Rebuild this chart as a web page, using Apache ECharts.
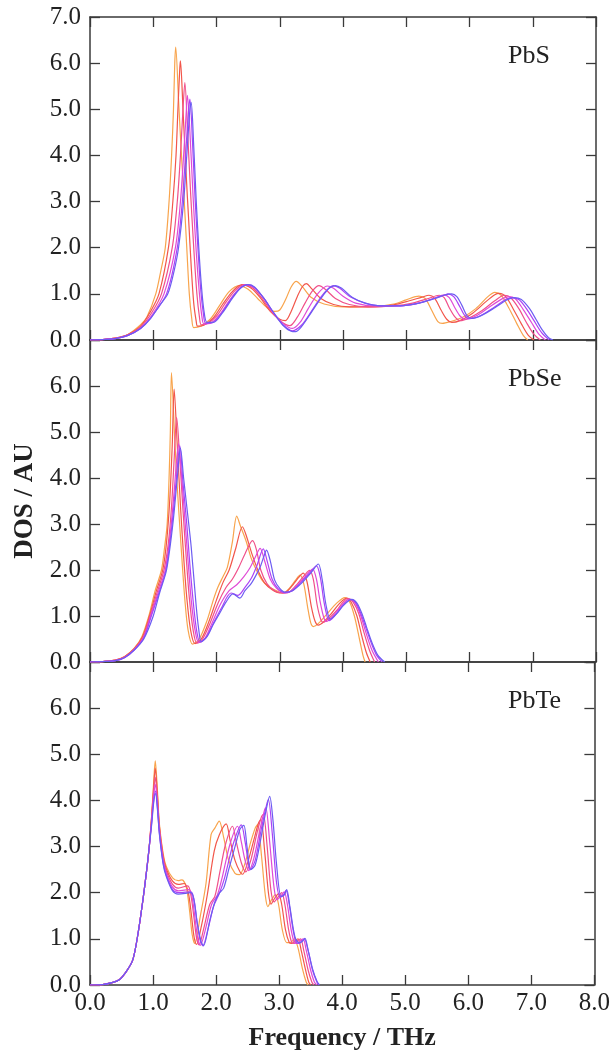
<!DOCTYPE html>
<html>
<head>
<meta charset="utf-8">
<script src="https://cdn.jsdelivr.net/npm/echarts@6/dist/echarts.min.js"></script>
<style>
html,body{margin:0;padding:0;background:#fff;}
#chart{width:613px;height:1055px;}
</style>
</head>
<body>
<div id="chart"></div>
<script>
// ---- Data (frequency THz, DOS AU) ----
const panelNames = ['PbS', 'PbSe', 'PbTe'];
const xTicks = [0, 1, 2, 3, 4, 5, 6, 7, 8];
const seriesColors = ['#f8a44c', '#f2564a', '#f0508a', '#e04ad6', '#ac42f6', '#6c5cf2'];

// PbS
const pbs_1 = [[0,0],[0.2,0.01],[0.4,0.04],[0.6,0.12],[0.8,0.33],[0.9,0.5],[1.04,1.0],[1.12,1.5],[1.19,2.0],[1.25,3.0],[1.29,4.0],[1.32,5.0],[1.34,6.0],[1.355,6.35],[1.4,5.2],[1.45,3.9],[1.49,3.0],[1.53,2.0],[1.57,1.0],[1.61,0.45],[1.64,0.27],[1.75,0.3],[1.9,0.45],[2.05,0.75],[2.2,1.05],[2.36,1.18],[2.5,1.1],[2.65,0.9],[2.8,0.7],[2.92,0.62],[3.0,0.65],[3.1,0.9],[3.18,1.15],[3.26,1.27],[3.36,1.15],[3.5,0.92],[3.7,0.78],[4.0,0.72],[4.5,0.73],[4.8,0.78],[5.0,0.87],[5.2,0.95],[5.3,0.9],[5.4,0.65],[5.5,0.4],[5.57,0.36],[5.7,0.4],[5.9,0.5],[6.1,0.68],[6.3,0.95],[6.4,1.03],[6.5,0.97],[6.62,0.7],[6.75,0.35],[6.85,0.1],[6.92,0]];
const pbs_2 = [[0,0],[0.2,0.01],[0.4,0.04],[0.6,0.12],[0.8,0.3],[0.95,0.6],[1.09,1.0],[1.24,2.0],[1.31,3.0],[1.36,4.0],[1.39,5.0],[1.42,5.9],[1.43,6.05],[1.47,5.0],[1.52,3.6],[1.56,2.6],[1.6,1.6],[1.64,0.8],[1.68,0.4],[1.7,0.3],[1.8,0.32],[1.95,0.48],[2.1,0.78],[2.25,1.05],[2.4,1.2],[2.55,1.12],[2.7,0.9],[2.85,0.62],[3.0,0.45],[3.09,0.42],[3.18,0.62],[3.28,0.95],[3.36,1.16],[3.42,1.22],[3.5,1.12],[3.65,0.9],[3.85,0.77],[4.1,0.72],[4.5,0.72],[4.8,0.76],[5.05,0.85],[5.25,0.93],[5.36,0.97],[5.45,0.9],[5.55,0.65],[5.64,0.45],[5.72,0.38],[5.85,0.42],[6.05,0.58],[6.25,0.82],[6.4,0.98],[6.47,1.01],[6.58,0.93],[6.7,0.65],[6.82,0.35],[6.93,0.1],[7.02,0]];
const pbs_3 = [[0,0],[0.2,0.01],[0.4,0.04],[0.6,0.11],[0.8,0.28],[0.97,0.58],[1.13,1.0],[1.3,2.0],[1.38,3.0],[1.43,4.0],[1.47,5.0],[1.5,5.58],[1.54,4.6],[1.59,3.2],[1.64,2.0],[1.69,1.0],[1.73,0.5],[1.76,0.33],[1.85,0.35],[2.0,0.52],[2.15,0.82],[2.3,1.08],[2.44,1.2],[2.58,1.12],[2.72,0.9],[2.88,0.6],[3.02,0.4],[3.16,0.31],[3.28,0.5],[3.4,0.8],[3.52,1.07],[3.62,1.18],[3.72,1.1],[3.88,0.9],[4.1,0.77],[4.4,0.72],[4.8,0.74],[5.1,0.8],[5.35,0.9],[5.52,0.97],[5.6,0.92],[5.68,0.7],[5.77,0.5],[5.85,0.42],[6.0,0.48],[6.2,0.64],[6.4,0.85],[6.55,0.97],[6.65,0.92],[6.78,0.68],[6.9,0.38],[7.02,0.12],[7.12,0]];
const pbs_4 = [[0,0],[0.2,0.01],[0.4,0.03],[0.6,0.1],[0.8,0.26],[0.97,0.52],[1.17,1.0],[1.35,2.0],[1.43,3.0],[1.48,4.0],[1.52,4.9],[1.54,5.3],[1.58,4.5],[1.63,3.1],[1.68,1.9],[1.73,1.0],[1.77,0.5],[1.8,0.35],[1.9,0.36],[2.05,0.55],[2.2,0.85],[2.35,1.1],[2.47,1.2],[2.6,1.13],[2.75,0.9],[2.9,0.58],[3.05,0.36],[3.2,0.25],[3.32,0.38],[3.45,0.68],[3.6,1.0],[3.75,1.17],[3.85,1.12],[4.0,0.95],[4.2,0.8],[4.5,0.74],[4.9,0.74],[5.2,0.8],[5.45,0.91],[5.6,0.98],[5.68,0.92],[5.76,0.72],[5.85,0.52],[5.93,0.45],[6.1,0.52],[6.3,0.7],[6.5,0.88],[6.62,0.94],[6.72,0.9],[6.85,0.66],[6.98,0.38],[7.1,0.12],[7.2,0]];
const pbs_5 = [[0,0],[0.2,0.01],[0.4,0.03],[0.6,0.1],[0.8,0.25],[0.96,0.48],[1.21,1.0],[1.38,2.0],[1.46,3.0],[1.51,4.0],[1.56,5.0],[1.58,5.22],[1.62,4.3],[1.66,3.1],[1.71,1.9],[1.75,1.1],[1.79,0.6],[1.83,0.36],[1.93,0.37],[2.08,0.58],[2.22,0.87],[2.37,1.12],[2.49,1.2],[2.6,1.14],[2.75,0.9],[2.9,0.6],[3.05,0.33],[3.2,0.2],[3.35,0.33],[3.5,0.62],[3.65,0.93],[3.77,1.12],[3.85,1.18],[3.95,1.12],[4.12,0.93],[4.35,0.8],[4.6,0.74],[4.9,0.74],[5.2,0.8],[5.45,0.9],[5.6,0.97],[5.66,1.0],[5.75,0.94],[5.84,0.74],[5.92,0.54],[6.0,0.46],[6.18,0.53],[6.38,0.7],[6.55,0.86],[6.66,0.92],[6.78,0.88],[6.9,0.68],[7.02,0.42],[7.14,0.16],[7.26,0]];
const pbs_6 = [[0,0],[0.2,0.01],[0.4,0.03],[0.6,0.1],[0.8,0.25],[0.95,0.45],[1.1,0.75],[1.23,1.0],[1.33,1.5],[1.4,2.0],[1.48,3.0],[1.53,4.0],[1.58,5.0],[1.6,5.15],[1.64,4.2],[1.68,3.0],[1.72,2.0],[1.76,1.2],[1.8,0.65],[1.85,0.38],[1.95,0.38],[2.1,0.6],[2.25,0.9],[2.38,1.12],[2.5,1.2],[2.6,1.15],[2.75,0.9],[2.9,0.6],[3.05,0.32],[3.18,0.19],[3.25,0.18],[3.35,0.3],[3.5,0.6],[3.65,0.9],[3.78,1.12],[3.88,1.18],[3.98,1.12],[4.15,0.92],[4.35,0.8],[4.6,0.74],[4.9,0.74],[5.2,0.8],[5.45,0.9],[5.62,0.98],[5.72,1.0],[5.8,0.94],[5.88,0.75],[5.96,0.53],[6.04,0.47],[6.2,0.54],[6.4,0.7],[6.58,0.86],[6.7,0.92],[6.82,0.88],[6.95,0.68],[7.05,0.45],[7.15,0.22],[7.25,0.05],[7.32,0]];

// PbSe
const pbse_1 = [[0,0],[0.2,0.01],[0.4,0.04],[0.55,0.12],[0.7,0.3],[0.82,0.55],[0.93,1.0],[1.03,1.55],[1.13,2.0],[1.18,2.5],[1.22,3.0],[1.25,4.0],[1.27,5.0],[1.288,6.29],[1.34,4.83],[1.38,3.8],[1.42,2.94],[1.46,2.1],[1.5,1.35],[1.55,0.7],[1.62,0.39],[1.72,0.48],[1.85,0.9],[1.95,1.35],[2.02,1.62],[2.1,1.85],[2.17,2.05],[2.25,2.6],[2.32,3.17],[2.38,2.95],[2.47,2.62],[2.55,2.25],[2.63,2.0],[2.72,1.78],[2.82,1.64],[2.95,1.55],[3.05,1.5],[3.15,1.6],[3.25,1.78],[3.32,1.89],[3.38,1.7],[3.44,1.2],[3.49,0.85],[3.53,0.77],[3.62,0.85],[3.75,1.05],[3.9,1.28],[4.03,1.4],[4.1,1.32],[4.18,1.0],[4.26,0.5],[4.32,0.12],[4.35,0]];
const pbse_2 = [[0,0],[0.2,0.01],[0.4,0.04],[0.55,0.12],[0.7,0.29],[0.83,0.55],[0.94,1.0],[1.05,1.55],[1.15,2.0],[1.21,2.6],[1.26,3.5],[1.3,4.7],[1.33,5.93],[1.38,4.7],[1.43,3.4],[1.48,2.3],[1.53,1.4],[1.59,0.7],[1.66,0.4],[1.76,0.5],[1.88,0.88],[2.0,1.35],[2.1,1.72],[2.2,2.0],[2.3,2.45],[2.41,2.94],[2.47,2.75],[2.56,2.35],[2.66,1.98],[2.76,1.72],[2.88,1.57],[3.0,1.5],[3.1,1.52],[3.22,1.7],[3.3,1.84],[3.37,1.93],[3.43,1.75],[3.5,1.2],[3.56,0.88],[3.61,0.8],[3.7,0.88],[3.82,1.06],[3.95,1.28],[4.06,1.39],[4.13,1.3],[4.22,1.0],[4.3,0.55],[4.37,0.2],[4.43,0]];
const pbse_3 = [[0,0],[0.2,0.01],[0.4,0.04],[0.55,0.11],[0.7,0.28],[0.84,0.54],[0.95,1.0],[1.07,1.55],[1.17,2.0],[1.24,2.6],[1.29,3.4],[1.33,4.4],[1.37,5.32],[1.42,4.4],[1.47,3.3],[1.52,2.3],[1.57,1.4],[1.63,0.7],[1.69,0.41],[1.78,0.5],[1.9,0.85],[2.03,1.3],[2.15,1.62],[2.25,1.8],[2.35,2.05],[2.45,2.35],[2.57,2.64],[2.63,2.45],[2.7,2.0],[2.8,1.7],[2.92,1.55],[3.05,1.5],[3.15,1.52],[3.28,1.7],[3.4,1.9],[3.47,1.99],[3.53,1.8],[3.59,1.25],[3.65,0.92],[3.69,0.86],[3.78,0.95],[3.9,1.12],[4.0,1.3],[4.08,1.38],[4.16,1.3],[4.25,1.05],[4.33,0.65],[4.42,0.25],[4.5,0]];
const pbse_4 = [[0,0],[0.2,0.01],[0.4,0.03],[0.55,0.1],[0.7,0.27],[0.85,0.54],[0.96,1.0],[1.08,1.52],[1.19,2.0],[1.27,2.8],[1.33,3.7],[1.37,4.4],[1.4,4.75],[1.45,4.0],[1.5,3.1],[1.55,2.2],[1.6,1.35],[1.66,0.7],[1.72,0.42],[1.82,0.52],[1.93,0.85],[2.06,1.25],[2.2,1.55],[2.32,1.68],[2.43,1.85],[2.53,2.05],[2.62,2.3],[2.69,2.47],[2.76,2.2],[2.85,1.8],[2.95,1.6],[3.07,1.5],[3.18,1.54],[3.3,1.7],[3.43,1.9],[3.52,2.02],[3.58,1.8],[3.64,1.3],[3.7,0.95],[3.74,0.88],[3.83,0.98],[3.95,1.18],[4.04,1.32],[4.1,1.37],[4.18,1.3],[4.27,1.05],[4.36,0.65],[4.46,0.25],[4.56,0]];
const pbse_5 = [[0,0],[0.2,0.01],[0.4,0.03],[0.55,0.1],[0.7,0.26],[0.85,0.52],[0.97,1.0],[1.09,1.5],[1.2,2.0],[1.29,2.9],[1.36,3.9],[1.42,4.7],[1.47,3.9],[1.53,3.0],[1.58,2.1],[1.64,1.2],[1.69,0.65],[1.74,0.43],[1.84,0.54],[1.95,0.84],[2.08,1.18],[2.23,1.5],[2.34,1.45],[2.45,1.62],[2.55,1.82],[2.64,2.1],[2.74,2.46],[2.8,2.2],[2.88,1.8],[2.97,1.6],[3.08,1.51],[3.2,1.55],[3.33,1.72],[3.47,1.93],[3.58,2.09],[3.64,1.85],[3.7,1.3],[3.75,0.98],[3.78,0.9],[3.88,1.02],[3.98,1.2],[4.07,1.32],[4.12,1.36],[4.2,1.29],[4.28,1.06],[4.36,0.75],[4.45,0.4],[4.53,0.15],[4.62,0]];
const pbse_6 = [[0,0],[0.2,0.01],[0.4,0.03],[0.55,0.1],[0.7,0.26],[0.85,0.5],[1.0,1.0],[1.1,1.5],[1.21,2.0],[1.31,3.0],[1.38,4.0],[1.43,4.65],[1.48,4.0],[1.53,3.38],[1.6,2.5],[1.68,1.2],[1.72,0.7],[1.76,0.44],[1.85,0.55],[1.95,0.82],[2.05,1.06],[2.15,1.3],[2.26,1.48],[2.37,1.39],[2.45,1.55],[2.55,1.71],[2.63,1.9],[2.7,2.1],[2.75,2.3],[2.79,2.43],[2.85,2.2],[2.92,1.78],[3.0,1.6],[3.08,1.52],[3.2,1.55],[3.35,1.72],[3.5,1.95],[3.61,2.13],[3.67,1.8],[3.73,1.25],[3.8,0.93],[3.9,1.05],[4.0,1.22],[4.1,1.34],[4.14,1.36],[4.22,1.28],[4.3,1.05],[4.37,0.77],[4.45,0.45],[4.55,0.15],[4.66,0]];

// PbTe
const pbte_1 = [[0,0],[0.2,0.01],[0.35,0.05],[0.47,0.12],[0.58,0.3],[0.68,0.55],[0.76,1.1],[0.84,1.85],[0.9,2.5],[0.94,3.0],[0.98,3.7],[1.01,4.4],[1.035,4.86],[1.07,4.2],[1.1,3.5],[1.16,2.85],[1.21,2.57],[1.31,2.32],[1.4,2.26],[1.46,2.28],[1.53,2.1],[1.58,1.6],[1.62,1.1],[1.66,0.9],[1.75,1.5],[1.84,2.2],[1.92,3.26],[1.98,3.4],[2.05,3.55],[2.12,3.2],[2.2,2.7],[2.3,2.42],[2.37,2.39],[2.45,2.6],[2.55,3.1],[2.62,3.4],[2.66,3.48],[2.72,2.8],[2.78,1.95],[2.82,1.7],[2.88,1.85],[2.94,1.96],[2.99,1.75],[3.05,1.2],[3.12,0.92],[3.18,0.92],[3.24,1.0],[3.3,0.8],[3.37,0.35],[3.43,0.06],[3.46,0]];
const pbte_2 = [[0,0],[0.2,0.01],[0.35,0.05],[0.47,0.12],[0.58,0.3],[0.68,0.55],[0.76,1.1],[0.84,1.85],[0.9,2.5],[0.94,3.0],[0.98,3.7],[1.01,4.3],[1.035,4.7],[1.07,4.1],[1.1,3.45],[1.16,2.8],[1.21,2.52],[1.31,2.25],[1.4,2.18],[1.5,2.2],[1.56,2.0],[1.61,1.5],[1.65,1.05],[1.69,0.88],[1.77,1.3],[1.86,1.95],[1.97,2.9],[2.05,3.25],[2.16,3.49],[2.22,3.15],[2.3,2.7],[2.38,2.45],[2.42,2.4],[2.5,2.65],[2.6,3.15],[2.67,3.5],[2.71,3.59],[2.77,2.9],[2.83,2.0],[2.87,1.75],[2.93,1.88],[2.99,1.98],[3.04,1.75],[3.1,1.2],[3.16,0.92],[3.2,0.9],[3.26,0.97],[3.3,1.0],[3.35,0.75],[3.42,0.32],[3.47,0.06],[3.5,0]];
const pbte_3 = [[0,0],[0.2,0.01],[0.35,0.05],[0.47,0.12],[0.58,0.3],[0.68,0.55],[0.76,1.1],[0.84,1.85],[0.9,2.5],[0.94,3.0],[0.98,3.65],[1.01,4.2],[1.035,4.5],[1.07,4.0],[1.1,3.4],[1.16,2.75],[1.21,2.47],[1.31,2.18],[1.4,2.1],[1.55,2.15],[1.6,1.95],[1.65,1.45],[1.69,1.02],[1.73,0.87],[1.8,1.2],[1.9,1.75],[1.98,1.92],[2.06,2.45],[2.15,3.05],[2.26,3.44],[2.32,3.1],[2.4,2.65],[2.47,2.45],[2.55,2.7],[2.65,3.3],[2.72,3.65],[2.75,3.7],[2.81,3.0],[2.87,2.05],[2.92,1.8],[2.98,1.9],[3.04,2.0],[3.09,1.75],[3.15,1.2],[3.2,0.92],[3.24,0.9],[3.3,0.97],[3.34,1.0],[3.39,0.75],[3.46,0.32],[3.52,0.06],[3.55,0]];
const pbte_4 = [[0,0],[0.2,0.01],[0.35,0.05],[0.47,0.12],[0.58,0.3],[0.68,0.55],[0.76,1.1],[0.84,1.85],[0.9,2.5],[0.94,3.0],[0.98,3.6],[1.01,4.1],[1.035,4.35],[1.07,3.9],[1.1,3.35],[1.16,2.7],[1.21,2.42],[1.31,2.12],[1.4,2.04],[1.57,2.07],[1.62,1.9],[1.67,1.4],[1.71,1.0],[1.75,0.86],[1.83,1.2],[1.93,1.75],[2.02,1.95],[2.1,2.35],[2.22,3.05],[2.34,3.44],[2.4,3.1],[2.46,2.7],[2.52,2.48],[2.6,2.75],[2.7,3.4],[2.77,3.8],[2.79,3.84],[2.85,3.1],[2.92,2.1],[2.97,1.85],[3.03,1.93],[3.08,2.02],[3.13,1.75],[3.19,1.2],[3.24,0.92],[3.28,0.9],[3.34,0.97],[3.38,1.0],[3.43,0.75],[3.5,0.32],[3.56,0.06],[3.6,0]];
const pbte_5 = [[0,0],[0.2,0.01],[0.35,0.05],[0.47,0.12],[0.58,0.3],[0.68,0.55],[0.76,1.1],[0.84,1.85],[0.9,2.5],[0.94,3.0],[0.98,3.55],[1.01,4.0],[1.04,4.2],[1.07,3.85],[1.1,3.3],[1.16,2.65],[1.21,2.38],[1.31,2.07],[1.4,2.0],[1.6,2.02],[1.65,1.85],[1.7,1.35],[1.75,0.95],[1.79,0.85],[1.87,1.2],[1.96,1.7],[2.05,1.98],[2.13,2.3],[2.27,3.05],[2.4,3.47],[2.46,3.1],[2.5,2.75],[2.54,2.5],[2.62,2.7],[2.72,3.4],[2.8,3.9],[2.83,4.02],[2.89,3.3],[2.96,2.2],[3.02,1.9],[3.07,1.96],[3.11,2.05],[3.16,1.75],[3.22,1.2],[3.27,0.92],[3.31,0.9],[3.37,0.97],[3.4,1.0],[3.46,0.75],[3.53,0.32],[3.6,0.06],[3.63,0]];
const pbte_6 = [[0,0],[0.2,0.01],[0.35,0.05],[0.47,0.12],[0.58,0.3],[0.68,0.55],[0.76,1.1],[0.84,1.85],[0.9,2.5],[0.94,3.0],[0.98,3.5],[1.01,3.95],[1.04,4.15],[1.07,3.8],[1.1,3.28],[1.16,2.62],[1.21,2.35],[1.31,2.04],[1.4,1.97],[1.6,2.0],[1.65,1.83],[1.7,1.35],[1.76,0.95],[1.8,0.85],[1.9,1.4],[1.98,1.8],[2.05,1.99],[2.12,2.1],[2.2,2.5],[2.3,3.0],[2.38,3.38],[2.44,3.46],[2.49,3.0],[2.55,2.5],[2.62,2.6],[2.7,3.1],[2.78,3.7],[2.85,4.09],[2.9,3.6],[2.96,2.6],[3.03,1.92],[3.08,1.95],[3.12,2.07],[3.17,1.7],[3.25,1.05],[3.32,0.91],[3.37,0.95],[3.41,1.01],[3.46,0.75],[3.53,0.35],[3.6,0.08],[3.64,0]];

const panels = [
  [pbs_1, pbs_2, pbs_3, pbs_4, pbs_5, pbs_6],
  [pbse_1, pbse_2, pbse_3, pbse_4, pbse_5, pbse_6],
  [pbte_1, pbte_2, pbte_3, pbte_4, pbte_5, pbte_6]
];

// ---- Chart ----
const FONT = "'Liberation Serif','Times New Roman',serif";
const AXC = '#3a3a3a';
const LEFT = 90, WIDTH = 506;
const tops = [17, 340, 662];
const heights = [323, 322, 323];

const chart = echarts.init(document.getElementById('chart'), null, {renderer: 'canvas'});

const grid = tops.map((t, i) => ({left: LEFT, top: t, width: WIDTH, height: heights[i], containLabel: false}));
const xAxis = [], yAxis = [], series = [];

tops.forEach((t, i) => {
  const isBottom = i === 2;
  xAxis.push({
    type: 'value', gridIndex: i, min: xTicks[0], max: xTicks[xTicks.length - 1], interval: 1,
    position: 'bottom',
    axisLine: {show: true, onZero: false, lineStyle: {color: AXC, width: 1.5}},
    axisTick: {show: true, inside: true, length: 10, lineStyle: {color: AXC, width: 1.3}},
    axisLabel: {show: isBottom, fontFamily: FONT, fontSize: 25, color: '#222', margin: 6,
      formatter: v => v.toFixed(1)},
    splitLine: {show: false},
    name: isBottom ? 'Frequency / THz' : '', nameLocation: 'middle', nameGap: 40,
    nameTextStyle: {fontFamily: FONT, fontSize: 26, fontWeight: 'bold', color: '#222'}
  });
  xAxis.push({
    type: 'value', gridIndex: i, min: 0, max: 8, interval: 1, position: 'top',
    axisLine: {show: true, onZero: false, lineStyle: {color: AXC, width: 1.5}},
    axisTick: {show: true, inside: true, length: 10, lineStyle: {color: AXC, width: 1.3}},
    axisLabel: {show: false}, splitLine: {show: false}
  });
  yAxis.push({
    type: 'value', gridIndex: i, min: 0, max: 7, interval: 1, position: 'left',
    axisLine: {show: true, onZero: false, lineStyle: {color: AXC, width: 1.5}},
    axisTick: {show: true, inside: true, length: 10, lineStyle: {color: AXC, width: 1.3}},
    axisLabel: {show: true, fontFamily: FONT, fontSize: 25, color: '#222', margin: 9,
      formatter: v => (i > 0 && v === 7) ? '' : v.toFixed(1)},
    splitLine: {show: false},
    name: i === 1 ? 'DOS / AU' : '', nameLocation: 'middle', nameGap: 49,
    nameTextStyle: {fontFamily: FONT, fontSize: 27, fontWeight: 'bold', color: '#222'}
  });
  yAxis.push({
    type: 'value', gridIndex: i, min: 0, max: 7, interval: 1, position: 'right',
    axisLine: {show: true, onZero: false, lineStyle: {color: AXC, width: 1.5}},
    axisTick: {show: true, inside: true, length: 10, lineStyle: {color: AXC, width: 1.3}},
    axisLabel: {show: false}, splitLine: {show: false}
  });
  panels[i].forEach((data, k) => {
    series.push({
      type: 'line', xAxisIndex: i * 2, yAxisIndex: i * 2, data: data,
      showSymbol: false, smooth: 0.3,
      lineStyle: {color: seriesColors[k], width: 1.2}, z: 2 + k, silent: true
    });
  });
});

const graphic = panelNames.map((n, i) => ({
  type: 'text', left: 508, top: tops[i] + 26,
  style: {text: n, font: "26px " + FONT, fill: '#222'}
}));

chart.setOption({
  animation: false,
  backgroundColor: '#fff',
  grid, xAxis, yAxis, series, graphic
});
</script>
</body>
</html>
